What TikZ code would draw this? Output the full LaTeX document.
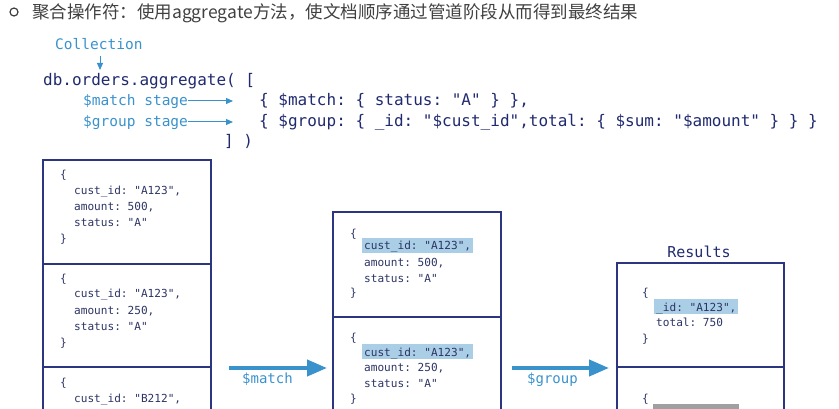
\documentclass[tikz,border=0pt]{standalone}
\usepackage{fontspec}
\setmonofont{DejaVu Sans Mono}
\newfontfamily\cjk{Noto Sans CJK SC}
\usetikzlibrary{arrows.meta}
\definecolor{navy}{RGB}{32,42,110}
\definecolor{boxline}{RGB}{44,54,128}
\definecolor{docnavy}{RGB}{44,52,100}
\definecolor{lblue}{RGB}{58,146,204}
\definecolor{hlblue}{RGB}{170,206,230}
\definecolor{hlgrey}{RGB}{160,160,160}
\definecolor{titlegrey}{RGB}{64,64,64}
\tikzset{
  cell/.style={draw=boxline, line width=1.3pt, minimum width=168pt, inner sep=0pt},
  doc/.style={font=\fontsize{11.1}{13}\selectfont\ttfamily, text=docnavy, anchor=base west, inner sep=0pt},
  hl/.style={doc, fill=hlblue, inner xsep=2pt, inner ysep=0pt, text height=12pt, text depth=3pt},
  code/.style={font=\fontsize{16}{18}\selectfont\ttfamily, text=navy, anchor=base west, inner sep=0pt},
  bluelbl/.style={font=\fontsize{14.5}{16}\selectfont\ttfamily, text=lblue, anchor=base west, inner sep=0pt},
  smallarrow/.style={draw=lblue, line width=1pt, -{Triangle[length=7pt,width=6pt]}},
  bigarrow/.style={draw=lblue, line width=4pt, -{Triangle[length=20pt,width=16pt]}},
}
\begin{document}
\begin{tikzpicture}[x=1pt,y=-1pt]
\useasboundingbox (0,0) rectangle (839,409);
% title
\node[draw=titlegrey, line width=1.2pt, circle, minimum size=8pt, inner sep=0pt] (bullet) at (14,12) {};
\node[font=\fontsize{17.5}{20}\selectfont\cjk, text=titlegrey, anchor=base west, inner sep=0pt] (title) at (32,19) {聚合操作符：使用aggregate方法，使文档顺序通过管道阶段从而得到最终结果};
% code
\node[bluelbl] (coll) at (55,50) {Collection};
\coordinate (aggtop) at (100,70);
\coordinate (collbot) at (100,56);
\node[code] (agg) at (43,86) {db.orders.aggregate( [};
\draw[smallarrow] (collbot) -- (aggtop);
\node[bluelbl] (mstage) at (83,106) {\$match stage};
\node[bluelbl] (gstage) at (83,127) {\$group stage};
\coordinate (mend) at (233,101);
\coordinate (gend) at (233,122);
\draw[smallarrow] (mstage.east |- mend) -- (mend);
\draw[smallarrow] (gstage.east |- gend) -- (gend);
\node[code] (mcode) at (259,106) {\{ \$match: \{ status: "A" \} \},};
\node[code] (gcode) at (259,127) {\{ \$group: \{ \_id: "\$cust\_id",total: \{ \$sum: "\$amount" \} \} \}};
\node[code] (close) at (224,147) {] )};
% left column
\node[cell, minimum height=104pt] (L1) at (127,212) {};
\node[cell, minimum height=103pt] (L2) at (127,315.5) {};
\node[cell, minimum height=103pt] (L3) at (127,418.5) {};
\node[doc] (l1a) at (60,179) {\{};
\node[doc] (l1b) at (74,195) {cust\_id: "A123",};
\node[doc] (l1c) at (74,211) {amount: 500,};
\node[doc] (l1d) at (74,227) {status: "A"};
\node[doc] (l1e) at (60,243) {\}};
\node[doc] (l2a) at (60,282) {\{};
\node[doc] (l2b) at (74,298) {cust\_id: "A123",};
\node[doc] (l2c) at (74,314) {amount: 250,};
\node[doc] (l2d) at (74,330) {status: "A"};
\node[doc] (l2e) at (60,346) {\}};
\node[doc] (l3a) at (60,386) {\{};
\node[doc] (l3b) at (74,402) {cust\_id: "B212",};
% middle column
\node[cell, minimum height=105pt] (M1) at (417,264.5) {};
\node[cell, minimum height=105pt] (M2) at (417,369.5) {};
\node[doc] (m1a) at (350,237) {\{};
\node[hl] (m1b) at (362,250) {cust\_id: "A123",};
\node[doc] (m1c) at (364,266) {amount: 500,};
\node[doc] (m1d) at (364,282) {status: "A"};
\node[doc] (m1e) at (350,297) {\}};
\node[doc] (m2a) at (350,341) {\{};
\node[hl] (m2b) at (362,356) {cust\_id: "A123",};
\node[doc] (m2c) at (364,371) {amount: 250,};
\node[doc] (m2d) at (364,387) {status: "A"};
\node[doc] (m2e) at (350,402) {\}};
% right column
\node[font=\fontsize{15}{17}\selectfont\ttfamily, text=navy, anchor=base, inner sep=0pt] (res) at (699,258) {Results};
\node[cell, minimum width=167pt, minimum height=104pt] (R1) at (700.5,315) {};
\node[cell, minimum width=167pt, minimum height=104pt] (R2) at (700.5,419) {};
\node[doc] (r1a) at (642,296) {\{};
\node[hl] (r1b) at (654,311) {\_id: "A123",};
\node[doc] (r1c) at (656,326) {total: 750};
\node[doc] (r1d) at (642,342) {\}};
\node[doc] (r2a) at (642,402) {\{};
\node[fill=hlgrey, inner sep=0pt, minimum width=86pt, minimum height=16pt, anchor=north west] (r2b) at (653,404) {};
% stage arrows
\coordinate (a1s) at (229,368);
\coordinate (a1e) at (327,368);
\coordinate (a2s) at (512,368);
\coordinate (a2e) at (609,368);
\draw[bigarrow] (a1s) -- (a1e);
\draw[bigarrow] (a2s) -- (a2e);
\node[bluelbl, font=\fontsize{14}{16}\selectfont\ttfamily] (mlbl) at (242,383) {\$match};
\node[bluelbl, font=\fontsize{14}{16}\selectfont\ttfamily] (glbl) at (527,383) {\$group};
\end{tikzpicture}
\end{document}
